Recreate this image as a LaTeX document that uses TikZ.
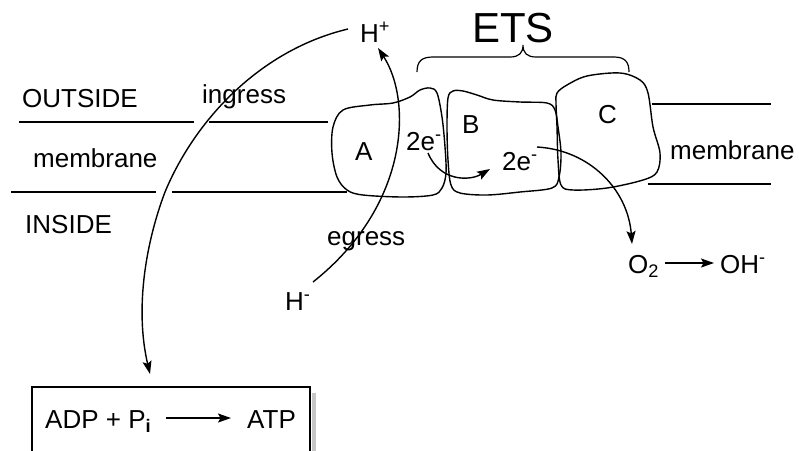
\documentclass[tikz,border=0pt]{standalone}
\usepackage{fontspec}
\setmainfont{Liberation Sans}
\usetikzlibrary{arrows.meta}
\tikzset{
  txt/.style={font=\fontsize{26}{30}\selectfont, inner sep=0pt, anchor=base west},
  big/.style={font=\fontsize{42}{48}\selectfont, inner sep=0pt, anchor=base west},
  ln/.style={line width=1.2pt},
  blob/.style={line width=1.4pt},
  arr/.style={line width=1.4pt, -{Stealth[length=13pt,width=9pt,inset=2.5pt]}},
}
\begin{document}
\begin{tikzpicture}[x=1pt,y=-1pt]
\useasboundingbox (0,0) rectangle (799,450);
% membrane lines
\draw[ln] (19,122) -- (194,122);
\draw[ln] (209,122) -- (328,122);
\draw[ln] (11,192) -- (156,192);
\draw[ln] (172,192) -- (347,192);
\draw[ln] (652,104) -- (771,104);
\draw[ln] (648,184) -- (771,184);
% labels
\node[txt] (outside) at (22,107) {OUTSIDE};
\node[txt] (ingress) at (202,103) {ingress};
\node[txt] (memL) at (33,167) {membrane};
\node[txt] (inside) at (25,233) {INSIDE};
\node[txt] (memR) at (670,159) {membrane};
\node[txt] (egress) at (327,245) {egress};
\node[txt] (hm) at (285,310) {H\textsuperscript{-}};
\node[txt] (hp) at (360,42) {H\textsuperscript{+}};
\node[big] (ets) at (472,42) {ETS};
% blobs
\draw[blob] plot[smooth cycle, tension=0.55] coordinates {
 (343,110) (370,105) (393,103) (410,97) (420,90) (430,88) (437,93)
 (442,117) (445,147) (446,173) (442,188) (433,195) (403,197) (363,195)
 (347,190) (337,177) (332,153) (333,127)};
\draw[blob] plot[smooth cycle, tension=0.55] coordinates {
 (448,98) (453,91) (463,91) (477,95) (493,100) (520,102) (547,103)
 (555,110) (558,127) (561,153) (559,177) (552,188) (520,192) (487,195)
 (460,193) (451,185) (448,160) (447,127)};
\draw[blob] plot[smooth cycle, tension=0.55] coordinates {
 (557,93) (567,85) (587,76) (620,73) (640,80) (648,93) (653,127)
 (660,153) (657,172) (643,180) (607,188) (573,190) (561,185) (558,160)
 (557,127) (556,103)};
\node[txt] (a) at (355,160) {A};
\node[txt] (b) at (462,133) {B};
\node[txt] (c) at (598,123) {C};
\node[txt] (e1) at (406,150) {2e\textsuperscript{-}};
\node[txt] (e2) at (502,170) {2e\textsuperscript{-}};
\node[txt] (o2) at (628,273) {O\textsubscript{2}};
\node[txt] (oh) at (720,273) {OH\textsuperscript{-}};
% brace
\draw[ln] (417,72) .. controls (417,61) and (422,57) .. (433,57) -- (510,57)
  .. controls (519,57) and (523,53) .. (523,45)
  .. controls (523,53) and (527,57) .. (536,57) -- (614,57)
  .. controls (625,57) and (629,62) .. (629,72);
% ATP box
\fill[gray!45] (312,393) rectangle (316,452);
\draw[ln] (32,387) rectangle (310,452);
\node[txt] (adp) at (45,428) {ADP + P\textsubscript{\textbf{i}}};
\node[txt] (atp) at (247,428) {ATP};
% connectors
\coordinate (hpstart) at (348,29);
\coordinate (mid) at (165,192);
\coordinate (boxin) at (150,374);
\draw[arr] (hpstart) .. controls (260,50) and (195,120) .. (mid)
  .. controls (145,245) and (135,310) .. (boxin);
\coordinate (hmstart) at (313,282);
\coordinate (hpend) at (378,48);
\draw[arr] (hmstart) .. controls (410,205) and (412,100) .. (hpend);
\coordinate (e1s) at (428,153);
\coordinate (e2e) at (490,169);
\draw[arr] (e1s) .. controls (440,182) and (470,181) .. (e2e);
\coordinate (e2s) at (537,147);
\coordinate (o2e) at (632,244);
\draw[arr] (e2s) .. controls (590,150) and (628,190) .. (o2e);
\coordinate (adpe) at (166,418);
\coordinate (atps) at (231,418);
\draw[arr] (adpe) -- (atps);
\coordinate (o2r) at (665,263);
\coordinate (ohl) at (714,263);
\draw[arr] (o2r) -- (ohl);
\end{tikzpicture}
\end{document}
